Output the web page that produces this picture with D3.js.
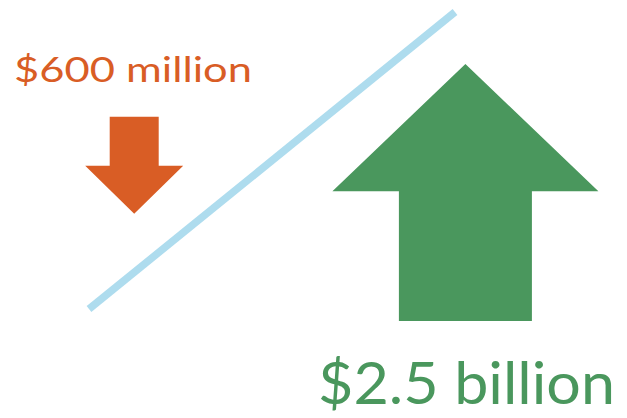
<!DOCTYPE html>
<html>
<head>
<meta charset="utf-8">
<script src="https://cdn.jsdelivr.net/npm/d3@7"></script>
<style>
  body { margin: 0; background: #fff; }
  svg { display: block; }
</style>
</head>
<body>
<svg></svg>
<script>
// data
var labels = ["$600 million", "$2.5 billion"];
var values = [600, 2500];
var directions = ["down", "up"];
var colors = ["#d95d25", "#4a975d"];

var screen = { width: 627, height: 418 };

var svg = d3.select("svg")
  .attr("width", screen.width)
  .attr("height", screen.height);

// arrow size from value
var widthScale = d3.scaleLinear()
  .domain([600, 2500])
  .range([98, 266]);
var heightScale = d3.scaleLinear()
  .domain([600, 2500])
  .range([97, 257]);

// where each arrow sits (center x, top y)
var arrowX = d3.scaleOrdinal().domain(directions).range([134.2, 465.4]);
var arrowTop = d3.scaleOrdinal().domain(directions).range([116.7, 64]);

// divider line
svg.append("line")
  .attr("x1", 89).attr("y1", 309)
  .attr("x2", 455).attr("y2", 12)
  .attr("stroke", "#aedcee")
  .attr("stroke-width", 7.5);

var arrowPath = function(d, i) {
  var w = widthScale(values[i]);
  var h = heightScale(values[i]);
  var sw = w * 0.5;
  var hh = h * 0.495;
  var cx = arrowX(d);
  var top = arrowTop(d);
  var p = d3.path();
  if (d == "down") {
    p.moveTo(cx - sw / 2, top);
    p.lineTo(cx + sw / 2, top);
    p.lineTo(cx + sw / 2, top + h - hh);
    p.lineTo(cx + w / 2, top + h - hh);
    p.lineTo(cx, top + h);
    p.lineTo(cx - w / 2, top + h - hh);
    p.lineTo(cx - sw / 2, top + h - hh);
  } else {
    p.moveTo(cx, top);
    p.lineTo(cx + w / 2, top + hh);
    p.lineTo(cx + sw / 2, top + hh);
    p.lineTo(cx + sw / 2, top + h);
    p.lineTo(cx - sw / 2, top + h);
    p.lineTo(cx - sw / 2, top + hh);
    p.lineTo(cx - w / 2, top + hh);
  }
  p.closePath();
  return p.toString();
};

svg.selectAll("path.arrow")
  .data(directions)
  .enter()
  .append("path")
  .attr("class", "arrow")
  .attr("d", arrowPath)
  .attr("fill", function(d, i) { return colors[i]; });

// labels
var labelPos = [
  { x: 14, y: 82, size: 35, len: 238 },
  { x: 318, y: 404, size: 59, len: 297 }
];

svg.selectAll("text.label")
  .data(labels)
  .enter()
  .append("text")
  .attr("class", "label")
  .attr("x", function(d, i) { return labelPos[i].x; })
  .attr("y", function(d, i) { return labelPos[i].y; })
  .attr("font-family", "Lato, 'Open Sans', sans-serif")
  .attr("font-weight", 400)
  .attr("font-size", function(d, i) { return labelPos[i].size; })
  .attr("textLength", function(d, i) { return labelPos[i].len; })
  .attr("lengthAdjust", "spacingAndGlyphs")
  .attr("fill", function(d, i) { return colors[i]; })
  .text(function(d) { return d; });
</script>
</body>
</html>
